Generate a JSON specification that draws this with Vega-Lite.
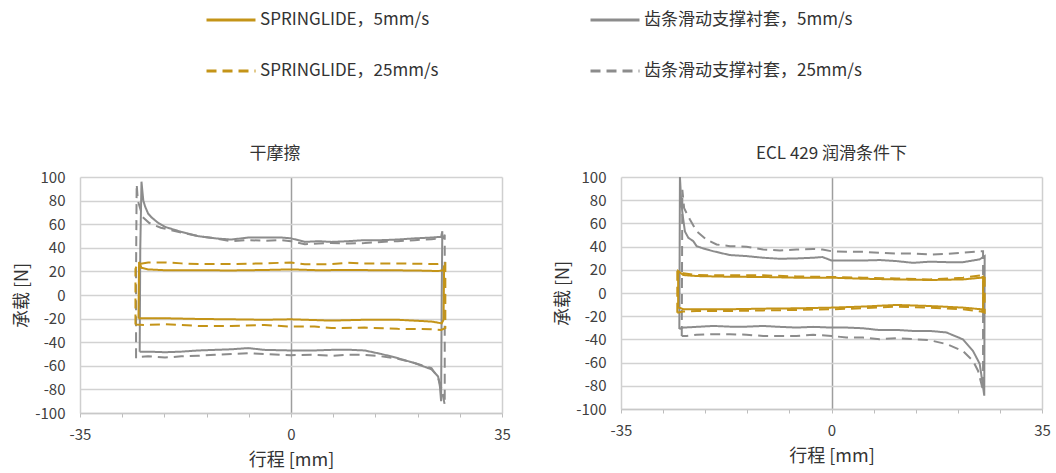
{
"$schema": "https://vega.github.io/schema/vega-lite/v6.json",
"padding": {"left": 13, "top": -6, "right": 5, "bottom": 5},
"background": "white",
"spacing": 43,
"config": {
  "font": "Noto Sans CJK SC",
  "view": {"stroke": null},
  "title": {"fontSize": 17, "fontWeight": "normal", "color": "#333333", "anchor": "middle", "offset": 7},
  "axis": {"labelFontSize": 15, "labelColor": "#404040", "titleFontSize": 18, "titleFontWeight": "normal", "titleColor": "#333333"},
  "legend": {"orient": "none", "legendX": 125, "legendY": -183, "columns": 2, "title": null, "symbolType": "stroke", "symbolSize": 2400, "symbolStrokeWidth": 3, "labelFontSize": 17, "labelColor": "#333333", "labelOffset": 3, "columnPadding": 145, "rowPadding": 17, "labelLimit": 400}
},
"datasets": {"d": [
{"p":"L","s":"齿条滑动支撑衬套，5mm/s","i":1,"x":-25.1,"y":-48},
{"p":"L","s":"齿条滑动支撑衬套，5mm/s","i":2,"x":-25.0,"y":40},
{"p":"L","s":"齿条滑动支撑衬套，5mm/s","i":3,"x":-24.8,"y":96},
{"p":"L","s":"齿条滑动支撑衬套，5mm/s","i":4,"x":-24.5,"y":80},
{"p":"L","s":"齿条滑动支撑衬套，5mm/s","i":5,"x":-24.2,"y":75},
{"p":"L","s":"齿条滑动支撑衬套，5mm/s","i":6,"x":-23.7,"y":69},
{"p":"L","s":"齿条滑动支撑衬套，5mm/s","i":7,"x":-23.1,"y":65.6},
{"p":"L","s":"齿条滑动支撑衬套，5mm/s","i":8,"x":-22.0,"y":61},
{"p":"L","s":"齿条滑动支撑衬套，5mm/s","i":9,"x":-20.9,"y":57.7},
{"p":"L","s":"齿条滑动支撑衬套，5mm/s","i":10,"x":-18.2,"y":53.5},
{"p":"L","s":"齿条滑动支撑衬套，5mm/s","i":11,"x":-15.4,"y":49.9},
{"p":"L","s":"齿条滑动支撑衬套，5mm/s","i":12,"x":-12.6,"y":48},
{"p":"L","s":"齿条滑动支撑衬套，5mm/s","i":13,"x":-9.9,"y":47},
{"p":"L","s":"齿条滑动支撑衬套，5mm/s","i":14,"x":-7.1,"y":48.7},
{"p":"L","s":"齿条滑动支撑衬套，5mm/s","i":15,"x":-4.4,"y":48.7},
{"p":"L","s":"齿条滑动支撑衬套，5mm/s","i":16,"x":-1.6,"y":48.7},
{"p":"L","s":"齿条滑动支撑衬套，5mm/s","i":17,"x":0,"y":48},
{"p":"L","s":"齿条滑动支撑衬套，5mm/s","i":18,"x":2.3,"y":45},
{"p":"L","s":"齿条滑动支撑衬套，5mm/s","i":19,"x":4.5,"y":45.6},
{"p":"L","s":"齿条滑动支撑衬套，5mm/s","i":20,"x":6.7,"y":45},
{"p":"L","s":"齿条滑动支撑衬套，5mm/s","i":21,"x":9.5,"y":45.6},
{"p":"L","s":"齿条滑动支撑衬套，5mm/s","i":22,"x":12.2,"y":46.5},
{"p":"L","s":"齿条滑动支撑衬套，5mm/s","i":23,"x":15.0,"y":46.5},
{"p":"L","s":"齿条滑动支撑衬套，5mm/s","i":24,"x":17.7,"y":47},
{"p":"L","s":"齿条滑动支撑衬套，5mm/s","i":25,"x":20.5,"y":48},
{"p":"L","s":"齿条滑动支撑衬套，5mm/s","i":26,"x":23.3,"y":48.7},
{"p":"L","s":"齿条滑动支撑衬套，5mm/s","i":27,"x":24.9,"y":49.3},
{"p":"L","s":"齿条滑动支撑衬套，5mm/s","i":28,"x":25.1,"y":54},
{"p":"L","s":"齿条滑动支撑衬套，5mm/s","i":29,"x":25.0,"y":0},
{"p":"L","s":"齿条滑动支撑衬套，5mm/s","i":30,"x":24.9,"y":-90},
{"p":"L","s":"齿条滑动支撑衬套，5mm/s","i":31,"x":24.7,"y":-77.5},
{"p":"L","s":"齿条滑动支撑衬套，5mm/s","i":32,"x":24.4,"y":-69},
{"p":"L","s":"齿条滑动支撑衬套，5mm/s","i":33,"x":23.3,"y":-63},
{"p":"L","s":"齿条滑动支撑衬套，5mm/s","i":34,"x":20.5,"y":-57.7},
{"p":"L","s":"齿条滑动支撑衬套，5mm/s","i":35,"x":17.7,"y":-53.5},
{"p":"L","s":"齿条滑动支撑衬套，5mm/s","i":36,"x":15.0,"y":-50},
{"p":"L","s":"齿条滑动支撑衬套，5mm/s","i":37,"x":12.2,"y":-47},
{"p":"L","s":"齿条滑动支撑衬套，5mm/s","i":38,"x":10.0,"y":-46.5},
{"p":"L","s":"齿条滑动支撑衬套，5mm/s","i":39,"x":6.7,"y":-46.5},
{"p":"L","s":"齿条滑动支撑衬套，5mm/s","i":40,"x":3.9,"y":-47},
{"p":"L","s":"齿条滑动支撑衬套，5mm/s","i":41,"x":0,"y":-47},
{"p":"L","s":"齿条滑动支撑衬套，5mm/s","i":42,"x":-4.4,"y":-46.5},
{"p":"L","s":"齿条滑动支撑衬套，5mm/s","i":43,"x":-7.1,"y":-45},
{"p":"L","s":"齿条滑动支撑衬套，5mm/s","i":44,"x":-9.9,"y":-46},
{"p":"L","s":"齿条滑动支撑衬套，5mm/s","i":45,"x":-12.6,"y":-46.5},
{"p":"L","s":"齿条滑动支撑衬套，5mm/s","i":46,"x":-15.4,"y":-47},
{"p":"L","s":"齿条滑动支撑衬套，5mm/s","i":47,"x":-18.2,"y":-48},
{"p":"L","s":"齿条滑动支撑衬套，5mm/s","i":48,"x":-20.9,"y":-48.5},
{"p":"L","s":"齿条滑动支撑衬套，5mm/s","i":49,"x":-23.7,"y":-48},
{"p":"L","s":"齿条滑动支撑衬套，5mm/s","i":50,"x":-25.1,"y":-48},
{"p":"L","s":"齿条滑动支撑衬套，25mm/s","i":1,"x":-25.7,"y":-53.5},
{"p":"L","s":"齿条滑动支撑衬套，25mm/s","i":2,"x":-25.7,"y":20},
{"p":"L","s":"齿条滑动支撑衬套，25mm/s","i":3,"x":-25.6,"y":94},
{"p":"L","s":"齿条滑动支撑衬套，25mm/s","i":4,"x":-25.4,"y":80},
{"p":"L","s":"齿条滑动支撑衬套，25mm/s","i":5,"x":-24.6,"y":66},
{"p":"L","s":"齿条滑动支撑衬套，25mm/s","i":6,"x":-23.5,"y":61},
{"p":"L","s":"齿条滑动支撑衬套，25mm/s","i":7,"x":-21.6,"y":57},
{"p":"L","s":"齿条滑动支撑衬套，25mm/s","i":8,"x":-18.2,"y":53},
{"p":"L","s":"齿条滑动支撑衬套，25mm/s","i":9,"x":-15.4,"y":50},
{"p":"L","s":"齿条滑动支撑衬套，25mm/s","i":10,"x":-12.6,"y":48},
{"p":"L","s":"齿条滑动支撑衬套，25mm/s","i":11,"x":-9.9,"y":45.6},
{"p":"L","s":"齿条滑动支撑衬套，25mm/s","i":12,"x":-7.1,"y":46.5},
{"p":"L","s":"齿条滑动支撑衬套，25mm/s","i":13,"x":-4.4,"y":46},
{"p":"L","s":"齿条滑动支撑衬套，25mm/s","i":14,"x":-1.6,"y":46.5},
{"p":"L","s":"齿条滑动支撑衬套，25mm/s","i":15,"x":0,"y":45.6},
{"p":"L","s":"齿条滑动支撑衬套，25mm/s","i":16,"x":2.3,"y":43},
{"p":"L","s":"齿条滑动支撑衬套，25mm/s","i":17,"x":4.5,"y":43.7},
{"p":"L","s":"齿条滑动支撑衬套，25mm/s","i":18,"x":6.7,"y":44},
{"p":"L","s":"齿条滑动支撑衬套，25mm/s","i":19,"x":9.5,"y":43.7},
{"p":"L","s":"齿条滑动支撑衬套，25mm/s","i":20,"x":12.2,"y":44},
{"p":"L","s":"齿条滑动支撑衬套，25mm/s","i":21,"x":15.0,"y":45},
{"p":"L","s":"齿条滑动支撑衬套，25mm/s","i":22,"x":17.7,"y":45.6},
{"p":"L","s":"齿条滑动支撑衬套，25mm/s","i":23,"x":20.5,"y":46.5},
{"p":"L","s":"齿条滑动支撑衬套，25mm/s","i":24,"x":23.3,"y":47.3},
{"p":"L","s":"齿条滑动支撑衬套，25mm/s","i":25,"x":25.2,"y":48},
{"p":"L","s":"齿条滑动支撑衬套，25mm/s","i":26,"x":25.5,"y":51},
{"p":"L","s":"齿条滑动支撑衬套，25mm/s","i":27,"x":25.5,"y":-93},
{"p":"L","s":"齿条滑动支撑衬套，25mm/s","i":28,"x":25.0,"y":-80},
{"p":"L","s":"齿条滑动支撑衬套，25mm/s","i":29,"x":24.4,"y":-70},
{"p":"L","s":"齿条滑动支撑衬套，25mm/s","i":30,"x":23.3,"y":-62},
{"p":"L","s":"齿条滑动支撑衬套，25mm/s","i":31,"x":20.5,"y":-57.7},
{"p":"L","s":"齿条滑动支撑衬套，25mm/s","i":32,"x":17.7,"y":-54},
{"p":"L","s":"齿条滑动支撑衬套，25mm/s","i":33,"x":15.0,"y":-52},
{"p":"L","s":"齿条滑动支撑衬套，25mm/s","i":34,"x":12.2,"y":-50.7},
{"p":"L","s":"齿条滑动支撑衬套，25mm/s","i":35,"x":9.5,"y":-50.7},
{"p":"L","s":"齿条滑动支撑衬套，25mm/s","i":36,"x":6.7,"y":-51.5},
{"p":"L","s":"齿条滑动支撑衬套，25mm/s","i":37,"x":3.9,"y":-50.7},
{"p":"L","s":"齿条滑动支撑衬套，25mm/s","i":38,"x":0,"y":-51},
{"p":"L","s":"齿条滑动支撑衬套，25mm/s","i":39,"x":-4.4,"y":-50},
{"p":"L","s":"齿条滑动支撑衬套，25mm/s","i":40,"x":-7.1,"y":-49.3},
{"p":"L","s":"齿条滑动支撑衬套，25mm/s","i":41,"x":-9.9,"y":-50},
{"p":"L","s":"齿条滑动支撑衬套，25mm/s","i":42,"x":-12.6,"y":-50.7},
{"p":"L","s":"齿条滑动支撑衬套，25mm/s","i":43,"x":-15.4,"y":-51.5},
{"p":"L","s":"齿条滑动支撑衬套，25mm/s","i":44,"x":-18.2,"y":-52},
{"p":"L","s":"齿条滑动支撑衬套，25mm/s","i":45,"x":-20.9,"y":-53},
{"p":"L","s":"齿条滑动支撑衬套，25mm/s","i":46,"x":-23.7,"y":-52},
{"p":"L","s":"齿条滑动支撑衬套，25mm/s","i":47,"x":-25.3,"y":-52.5},
{"p":"L","s":"齿条滑动支撑衬套，25mm/s","i":48,"x":-25.7,"y":-53.5},
{"p":"L","s":"SPRINGLIDE，5mm/s","i":1,"x":-25.3,"y":-20},
{"p":"L","s":"SPRINGLIDE，5mm/s","i":2,"x":-25.2,"y":28},
{"p":"L","s":"SPRINGLIDE，5mm/s","i":3,"x":-24.8,"y":23},
{"p":"L","s":"SPRINGLIDE，5mm/s","i":4,"x":-23.7,"y":21.7},
{"p":"L","s":"SPRINGLIDE，5mm/s","i":5,"x":-20.9,"y":21},
{"p":"L","s":"SPRINGLIDE，5mm/s","i":6,"x":-15.4,"y":21},
{"p":"L","s":"SPRINGLIDE，5mm/s","i":7,"x":-9.9,"y":20.8},
{"p":"L","s":"SPRINGLIDE，5mm/s","i":8,"x":-4.4,"y":21.2},
{"p":"L","s":"SPRINGLIDE，5mm/s","i":9,"x":0,"y":21.7},
{"p":"L","s":"SPRINGLIDE，5mm/s","i":10,"x":4.5,"y":21},
{"p":"L","s":"SPRINGLIDE，5mm/s","i":11,"x":9.5,"y":21.2},
{"p":"L","s":"SPRINGLIDE，5mm/s","i":12,"x":15.0,"y":21},
{"p":"L","s":"SPRINGLIDE，5mm/s","i":13,"x":20.5,"y":20.8},
{"p":"L","s":"SPRINGLIDE，5mm/s","i":14,"x":24.4,"y":20.3},
{"p":"L","s":"SPRINGLIDE，5mm/s","i":15,"x":25.3,"y":21},
{"p":"L","s":"SPRINGLIDE，5mm/s","i":16,"x":25.4,"y":25},
{"p":"L","s":"SPRINGLIDE，5mm/s","i":17,"x":25.3,"y":-21},
{"p":"L","s":"SPRINGLIDE，5mm/s","i":18,"x":25.0,"y":-24},
{"p":"L","s":"SPRINGLIDE，5mm/s","i":19,"x":23.3,"y":-22.5},
{"p":"L","s":"SPRINGLIDE，5mm/s","i":20,"x":17.7,"y":-21},
{"p":"L","s":"SPRINGLIDE，5mm/s","i":21,"x":12.2,"y":-21},
{"p":"L","s":"SPRINGLIDE，5mm/s","i":22,"x":6.7,"y":-21.7},
{"p":"L","s":"SPRINGLIDE，5mm/s","i":23,"x":0,"y":-20.6},
{"p":"L","s":"SPRINGLIDE，5mm/s","i":24,"x":-4.4,"y":-21},
{"p":"L","s":"SPRINGLIDE，5mm/s","i":25,"x":-9.9,"y":-20.6},
{"p":"L","s":"SPRINGLIDE，5mm/s","i":26,"x":-15.4,"y":-20.3},
{"p":"L","s":"SPRINGLIDE，5mm/s","i":27,"x":-20.9,"y":-19.7},
{"p":"L","s":"SPRINGLIDE，5mm/s","i":28,"x":-25.0,"y":-19.7},
{"p":"L","s":"SPRINGLIDE，5mm/s","i":29,"x":-25.3,"y":-20},
{"p":"L","s":"SPRINGLIDE，25mm/s","i":1,"x":-25.8,"y":-25},
{"p":"L","s":"SPRINGLIDE，25mm/s","i":2,"x":-25.8,"y":22},
{"p":"L","s":"SPRINGLIDE，25mm/s","i":3,"x":-25.5,"y":26},
{"p":"L","s":"SPRINGLIDE，25mm/s","i":4,"x":-23.7,"y":27.6},
{"p":"L","s":"SPRINGLIDE，25mm/s","i":5,"x":-20.9,"y":27.6},
{"p":"L","s":"SPRINGLIDE，25mm/s","i":6,"x":-18.2,"y":26.8},
{"p":"L","s":"SPRINGLIDE，25mm/s","i":7,"x":-15.4,"y":26.2},
{"p":"L","s":"SPRINGLIDE，25mm/s","i":8,"x":-9.9,"y":26.2},
{"p":"L","s":"SPRINGLIDE，25mm/s","i":9,"x":-4.4,"y":26.8},
{"p":"L","s":"SPRINGLIDE，25mm/s","i":10,"x":0,"y":27.6},
{"p":"L","s":"SPRINGLIDE，25mm/s","i":11,"x":2.3,"y":26},
{"p":"L","s":"SPRINGLIDE，25mm/s","i":12,"x":6.7,"y":26.2},
{"p":"L","s":"SPRINGLIDE，25mm/s","i":13,"x":9.5,"y":27.3},
{"p":"L","s":"SPRINGLIDE，25mm/s","i":14,"x":12.2,"y":26.8},
{"p":"L","s":"SPRINGLIDE，25mm/s","i":15,"x":17.7,"y":26.8},
{"p":"L","s":"SPRINGLIDE，25mm/s","i":16,"x":24.4,"y":26.2},
{"p":"L","s":"SPRINGLIDE，25mm/s","i":17,"x":25.6,"y":27},
{"p":"L","s":"SPRINGLIDE，25mm/s","i":18,"x":25.6,"y":-28},
{"p":"L","s":"SPRINGLIDE，25mm/s","i":19,"x":24.9,"y":-29.6},
{"p":"L","s":"SPRINGLIDE，25mm/s","i":20,"x":23.3,"y":-29},
{"p":"L","s":"SPRINGLIDE，25mm/s","i":21,"x":17.7,"y":-28.7},
{"p":"L","s":"SPRINGLIDE，25mm/s","i":22,"x":12.2,"y":-27.6},
{"p":"L","s":"SPRINGLIDE，25mm/s","i":23,"x":6.7,"y":-28},
{"p":"L","s":"SPRINGLIDE，25mm/s","i":24,"x":3.9,"y":-26.8},
{"p":"L","s":"SPRINGLIDE，25mm/s","i":25,"x":0,"y":-26.8},
{"p":"L","s":"SPRINGLIDE，25mm/s","i":26,"x":-4.4,"y":-25.4},
{"p":"L","s":"SPRINGLIDE，25mm/s","i":27,"x":-9.9,"y":-26.2},
{"p":"L","s":"SPRINGLIDE，25mm/s","i":28,"x":-15.4,"y":-26.2},
{"p":"L","s":"SPRINGLIDE，25mm/s","i":29,"x":-20.9,"y":-24.8},
{"p":"L","s":"SPRINGLIDE，25mm/s","i":30,"x":-24.2,"y":-25.4},
{"p":"L","s":"SPRINGLIDE，25mm/s","i":31,"x":-25.8,"y":-25},
{"p":"R","s":"齿条滑动支撑衬套，5mm/s","i":1,"x":-25.3,"y":-31},
{"p":"R","s":"齿条滑动支撑衬套，5mm/s","i":2,"x":-25.2,"y":100},
{"p":"R","s":"齿条滑动支撑衬套，5mm/s","i":3,"x":-25.0,"y":80},
{"p":"R","s":"齿条滑动支撑衬套，5mm/s","i":4,"x":-24.76,"y":67.6},
{"p":"R","s":"齿条滑动支撑衬套，5mm/s","i":5,"x":-24.37,"y":53},
{"p":"R","s":"齿条滑动支撑衬套，5mm/s","i":6,"x":-23.81,"y":47.6},
{"p":"R","s":"齿条滑动支撑衬套，5mm/s","i":7,"x":-22.98,"y":44.7},
{"p":"R","s":"齿条滑动支撑衬套，5mm/s","i":8,"x":-22.43,"y":40.4},
{"p":"R","s":"齿条滑动支撑衬套，5mm/s","i":9,"x":-21.32,"y":38.4},
{"p":"R","s":"齿条滑动支撑衬套，5mm/s","i":10,"x":-19.66,"y":36},
{"p":"R","s":"齿条滑动支撑衬套，5mm/s","i":11,"x":-16.89,"y":32.7},
{"p":"R","s":"齿条滑动支撑衬套，5mm/s","i":12,"x":-14.13,"y":31.8},
{"p":"R","s":"齿条滑动支撑衬套，5mm/s","i":13,"x":-11.36,"y":30.4},
{"p":"R","s":"齿条滑动支撑衬套，5mm/s","i":14,"x":-8.59,"y":29.5},
{"p":"R","s":"齿条滑动支撑衬套，5mm/s","i":15,"x":-5.82,"y":29.8},
{"p":"R","s":"齿条滑动支撑衬套，5mm/s","i":16,"x":-3.05,"y":30.4},
{"p":"R","s":"齿条滑动支撑衬套，5mm/s","i":17,"x":-1.5,"y":31},
{"p":"R","s":"齿条滑动支撑衬套，5mm/s","i":18,"x":0,"y":28},
{"p":"R","s":"齿条滑动支撑衬套，5mm/s","i":19,"x":2.49,"y":28},
{"p":"R","s":"齿条滑动支撑衬套，5mm/s","i":20,"x":5.25,"y":28},
{"p":"R","s":"齿条滑动支撑衬套，5mm/s","i":21,"x":8.02,"y":28.4},
{"p":"R","s":"齿条滑动支撑衬套，5mm/s","i":22,"x":10.79,"y":27.5},
{"p":"R","s":"齿条滑动支撑衬套，5mm/s","i":23,"x":13.56,"y":26},
{"p":"R","s":"齿条滑动支撑衬套，5mm/s","i":24,"x":16.33,"y":27},
{"p":"R","s":"齿条滑动支撑衬套，5mm/s","i":25,"x":19.1,"y":26.6},
{"p":"R","s":"齿条滑动支撑衬套，5mm/s","i":26,"x":21.87,"y":26.6},
{"p":"R","s":"齿条滑动支撑衬套，5mm/s","i":27,"x":24.64,"y":29},
{"p":"R","s":"齿条滑动支撑衬套，5mm/s","i":28,"x":25.47,"y":31.8},
{"p":"R","s":"齿条滑动支撑衬套，5mm/s","i":29,"x":25.4,"y":-88.5},
{"p":"R","s":"齿条滑动支撑衬套，5mm/s","i":30,"x":24.9,"y":-70},
{"p":"R","s":"齿条滑动支撑衬套，5mm/s","i":31,"x":24.64,"y":-61},
{"p":"R","s":"齿条滑动支撑衬套，5mm/s","i":32,"x":23.53,"y":-50},
{"p":"R","s":"齿条滑动支撑衬套，5mm/s","i":33,"x":21.87,"y":-40},
{"p":"R","s":"齿条滑动支撑衬套，5mm/s","i":34,"x":19.1,"y":-34},
{"p":"R","s":"齿条滑动支撑衬套，5mm/s","i":35,"x":16.33,"y":-32.7},
{"p":"R","s":"齿条滑动支撑衬套，5mm/s","i":36,"x":13.56,"y":-32.7},
{"p":"R","s":"齿条滑动支撑衬套，5mm/s","i":37,"x":10.79,"y":-31.8},
{"p":"R","s":"齿条滑动支撑衬套，5mm/s","i":38,"x":8.02,"y":-32},
{"p":"R","s":"齿条滑动支撑衬套，5mm/s","i":39,"x":5.25,"y":-30.4},
{"p":"R","s":"齿条滑动支撑衬套，5mm/s","i":40,"x":2.49,"y":-29.8},
{"p":"R","s":"齿条滑动支撑衬套，5mm/s","i":41,"x":0,"y":-29.8},
{"p":"R","s":"齿条滑动支撑衬套，5mm/s","i":42,"x":-3.05,"y":-29.2},
{"p":"R","s":"齿条滑动支撑衬套，5mm/s","i":43,"x":-5.82,"y":-29.8},
{"p":"R","s":"齿条滑动支撑衬套，5mm/s","i":44,"x":-8.59,"y":-29.2},
{"p":"R","s":"齿条滑动支撑衬套，5mm/s","i":45,"x":-11.36,"y":-28.4},
{"p":"R","s":"齿条滑动支撑衬套，5mm/s","i":46,"x":-14.13,"y":-29},
{"p":"R","s":"齿条滑动支撑衬套，5mm/s","i":47,"x":-16.89,"y":-29},
{"p":"R","s":"齿条滑动支撑衬套，5mm/s","i":48,"x":-19.66,"y":-28.4},
{"p":"R","s":"齿条滑动支撑衬套，5mm/s","i":49,"x":-22.43,"y":-29.2},
{"p":"R","s":"齿条滑动支撑衬套，5mm/s","i":50,"x":-24.65,"y":-29.8},
{"p":"R","s":"齿条滑动支撑衬套，5mm/s","i":51,"x":-25.3,"y":-31},
{"p":"R","s":"齿条滑动支撑衬套，25mm/s","i":1,"x":-24.9,"y":-37},
{"p":"R","s":"齿条滑动支撑衬套，25mm/s","i":2,"x":-24.8,"y":89},
{"p":"R","s":"齿条滑动支撑衬套，25mm/s","i":3,"x":-24.5,"y":73},
{"p":"R","s":"齿条滑动支撑衬套，25mm/s","i":4,"x":-23.54,"y":63.3},
{"p":"R","s":"齿条滑动支撑衬套，25mm/s","i":5,"x":-22.43,"y":53.3},
{"p":"R","s":"齿条滑动支撑衬套，25mm/s","i":6,"x":-20.77,"y":46},
{"p":"R","s":"齿条滑动支撑衬套，25mm/s","i":7,"x":-19.11,"y":41.8},
{"p":"R","s":"齿条滑动支撑衬套，25mm/s","i":8,"x":-16.89,"y":40.4},
{"p":"R","s":"齿条滑动支撑衬套，25mm/s","i":9,"x":-14.13,"y":39.8},
{"p":"R","s":"齿条滑动支撑衬套，25mm/s","i":10,"x":-11.36,"y":37.5},
{"p":"R","s":"齿条滑动支撑衬套，25mm/s","i":11,"x":-8.59,"y":36.7},
{"p":"R","s":"齿条滑动支撑衬套，25mm/s","i":12,"x":-5.82,"y":37.5},
{"p":"R","s":"齿条滑动支撑衬套，25mm/s","i":13,"x":-3.05,"y":38},
{"p":"R","s":"齿条滑动支撑衬套，25mm/s","i":14,"x":-1.5,"y":37.5},
{"p":"R","s":"齿条滑动支撑衬套，25mm/s","i":15,"x":0,"y":36},
{"p":"R","s":"齿条滑动支撑衬套，25mm/s","i":16,"x":2.49,"y":35.5},
{"p":"R","s":"齿条滑动支撑衬套，25mm/s","i":17,"x":5.25,"y":35.5},
{"p":"R","s":"齿条滑动支撑衬套，25mm/s","i":18,"x":8.02,"y":34.7},
{"p":"R","s":"齿条滑动支撑衬套，25mm/s","i":19,"x":10.79,"y":34},
{"p":"R","s":"齿条滑动支撑衬套，25mm/s","i":20,"x":13.56,"y":34},
{"p":"R","s":"齿条滑动支撑衬套，25mm/s","i":21,"x":16.33,"y":33.2},
{"p":"R","s":"齿条滑动支撑衬套，25mm/s","i":22,"x":19.1,"y":33.7},
{"p":"R","s":"齿条滑动支撑衬套，25mm/s","i":23,"x":21.87,"y":34.7},
{"p":"R","s":"齿条滑动支撑衬套，25mm/s","i":24,"x":24.64,"y":36},
{"p":"R","s":"齿条滑动支撑衬套，25mm/s","i":25,"x":25.2,"y":36},
{"p":"R","s":"齿条滑动支撑衬套，25mm/s","i":26,"x":25.2,"y":-84},
{"p":"R","s":"齿条滑动支撑衬套，25mm/s","i":27,"x":24.36,"y":-67},
{"p":"R","s":"齿条滑动支撑衬套，25mm/s","i":28,"x":23.53,"y":-58.5},
{"p":"R","s":"齿条滑动支撑衬套，25mm/s","i":29,"x":21.87,"y":-50},
{"p":"R","s":"齿条滑动支撑衬套，25mm/s","i":30,"x":19.1,"y":-44},
{"p":"R","s":"齿条滑动支撑衬套，25mm/s","i":31,"x":16.33,"y":-40.7},
{"p":"R","s":"齿条滑动支撑衬套，25mm/s","i":32,"x":13.56,"y":-39.8},
{"p":"R","s":"齿条滑动支撑衬套，25mm/s","i":33,"x":10.79,"y":-39},
{"p":"R","s":"齿条滑动支撑衬套，25mm/s","i":34,"x":8.02,"y":-39.8},
{"p":"R","s":"齿条滑动支撑衬套，25mm/s","i":35,"x":5.25,"y":-38.4},
{"p":"R","s":"齿条滑动支撑衬套，25mm/s","i":36,"x":2.49,"y":-38.4},
{"p":"R","s":"齿条滑动支撑衬套，25mm/s","i":37,"x":0,"y":-37},
{"p":"R","s":"齿条滑动支撑衬套，25mm/s","i":38,"x":-3.05,"y":-36},
{"p":"R","s":"齿条滑动支撑衬套，25mm/s","i":39,"x":-5.82,"y":-37},
{"p":"R","s":"齿条滑动支撑衬套，25mm/s","i":40,"x":-8.59,"y":-37},
{"p":"R","s":"齿条滑动支撑衬套，25mm/s","i":41,"x":-11.36,"y":-37},
{"p":"R","s":"齿条滑动支撑衬套，25mm/s","i":42,"x":-14.13,"y":-36},
{"p":"R","s":"齿条滑动支撑衬套，25mm/s","i":43,"x":-16.89,"y":-35.5},
{"p":"R","s":"齿条滑动支撑衬套，25mm/s","i":44,"x":-19.66,"y":-35.5},
{"p":"R","s":"齿条滑动支撑衬套，25mm/s","i":45,"x":-22.43,"y":-36},
{"p":"R","s":"齿条滑动支撑衬套，25mm/s","i":46,"x":-24.09,"y":-37},
{"p":"R","s":"齿条滑动支撑衬套，25mm/s","i":47,"x":-24.9,"y":-37},
{"p":"R","s":"SPRINGLIDE，5mm/s","i":1,"x":-25.5,"y":-12.6},
{"p":"R","s":"SPRINGLIDE，5mm/s","i":2,"x":-25.5,"y":19},
{"p":"R","s":"SPRINGLIDE，5mm/s","i":3,"x":-24.65,"y":15.5},
{"p":"R","s":"SPRINGLIDE，5mm/s","i":4,"x":-22.43,"y":14.6},
{"p":"R","s":"SPRINGLIDE，5mm/s","i":5,"x":-16.89,"y":14},
{"p":"R","s":"SPRINGLIDE，5mm/s","i":6,"x":-11.36,"y":13.8},
{"p":"R","s":"SPRINGLIDE，5mm/s","i":7,"x":-5.82,"y":13.2},
{"p":"R","s":"SPRINGLIDE，5mm/s","i":8,"x":0,"y":13.2},
{"p":"R","s":"SPRINGLIDE，5mm/s","i":9,"x":5.25,"y":12.3},
{"p":"R","s":"SPRINGLIDE，5mm/s","i":10,"x":10.79,"y":11.7},
{"p":"R","s":"SPRINGLIDE，5mm/s","i":11,"x":16.33,"y":11.2},
{"p":"R","s":"SPRINGLIDE，5mm/s","i":12,"x":21.87,"y":11.7},
{"p":"R","s":"SPRINGLIDE，5mm/s","i":13,"x":24.91,"y":13.2},
{"p":"R","s":"SPRINGLIDE，5mm/s","i":14,"x":25.2,"y":14},
{"p":"R","s":"SPRINGLIDE，5mm/s","i":15,"x":25.2,"y":-15.5},
{"p":"R","s":"SPRINGLIDE，5mm/s","i":16,"x":24.91,"y":-14},
{"p":"R","s":"SPRINGLIDE，5mm/s","i":17,"x":21.87,"y":-12.6},
{"p":"R","s":"SPRINGLIDE，5mm/s","i":18,"x":16.33,"y":-11.2},
{"p":"R","s":"SPRINGLIDE，5mm/s","i":19,"x":10.79,"y":-10.3},
{"p":"R","s":"SPRINGLIDE，5mm/s","i":20,"x":5.25,"y":-11.7},
{"p":"R","s":"SPRINGLIDE，5mm/s","i":21,"x":0,"y":-12.6},
{"p":"R","s":"SPRINGLIDE，5mm/s","i":22,"x":-5.82,"y":-13.2},
{"p":"R","s":"SPRINGLIDE，5mm/s","i":23,"x":-11.36,"y":-13.5},
{"p":"R","s":"SPRINGLIDE，5mm/s","i":24,"x":-16.89,"y":-14},
{"p":"R","s":"SPRINGLIDE，5mm/s","i":25,"x":-22.43,"y":-14},
{"p":"R","s":"SPRINGLIDE，5mm/s","i":26,"x":-24.65,"y":-14},
{"p":"R","s":"SPRINGLIDE，5mm/s","i":27,"x":-25.1,"y":-13},
{"p":"R","s":"SPRINGLIDE，5mm/s","i":28,"x":-25.5,"y":-12.6},
{"p":"R","s":"SPRINGLIDE，25mm/s","i":1,"x":-25.64,"y":-17},
{"p":"R","s":"SPRINGLIDE，25mm/s","i":2,"x":-25.64,"y":19.5},
{"p":"R","s":"SPRINGLIDE，25mm/s","i":3,"x":-24.65,"y":17},
{"p":"R","s":"SPRINGLIDE，25mm/s","i":4,"x":-22.43,"y":15.5},
{"p":"R","s":"SPRINGLIDE，25mm/s","i":5,"x":-16.89,"y":15.2},
{"p":"R","s":"SPRINGLIDE，25mm/s","i":6,"x":-11.36,"y":15.2},
{"p":"R","s":"SPRINGLIDE，25mm/s","i":7,"x":-5.82,"y":14.3},
{"p":"R","s":"SPRINGLIDE，25mm/s","i":8,"x":0,"y":13.8},
{"p":"R","s":"SPRINGLIDE，25mm/s","i":9,"x":5.25,"y":13.2},
{"p":"R","s":"SPRINGLIDE，25mm/s","i":10,"x":10.79,"y":12.6},
{"p":"R","s":"SPRINGLIDE，25mm/s","i":11,"x":16.33,"y":11.7},
{"p":"R","s":"SPRINGLIDE，25mm/s","i":12,"x":21.87,"y":13.2},
{"p":"R","s":"SPRINGLIDE，25mm/s","i":13,"x":24.91,"y":15.2},
{"p":"R","s":"SPRINGLIDE，25mm/s","i":14,"x":25.47,"y":15},
{"p":"R","s":"SPRINGLIDE，25mm/s","i":15,"x":25.47,"y":-17},
{"p":"R","s":"SPRINGLIDE，25mm/s","i":16,"x":24.91,"y":-16},
{"p":"R","s":"SPRINGLIDE，25mm/s","i":17,"x":21.87,"y":-14},
{"p":"R","s":"SPRINGLIDE，25mm/s","i":18,"x":16.33,"y":-12.6},
{"p":"R","s":"SPRINGLIDE，25mm/s","i":19,"x":10.79,"y":-11.7},
{"p":"R","s":"SPRINGLIDE，25mm/s","i":20,"x":5.25,"y":-13.2},
{"p":"R","s":"SPRINGLIDE，25mm/s","i":21,"x":0,"y":-14},
{"p":"R","s":"SPRINGLIDE，25mm/s","i":22,"x":-5.82,"y":-14.6},
{"p":"R","s":"SPRINGLIDE，25mm/s","i":23,"x":-11.36,"y":-15},
{"p":"R","s":"SPRINGLIDE，25mm/s","i":24,"x":-16.89,"y":-15.5},
{"p":"R","s":"SPRINGLIDE，25mm/s","i":25,"x":-22.43,"y":-15.5},
{"p":"R","s":"SPRINGLIDE，25mm/s","i":26,"x":-24.65,"y":-16},
{"p":"R","s":"SPRINGLIDE，25mm/s","i":27,"x":-25.64,"y":-17}
]},
"hconcat": [
  {
    "width": 422, "height": 236,
    "title": {"text": "干摩擦", "dx": -16},
    "data": {"name": "d"},
    "transform": [{"filter": "datum.p == 'L'"}],
    "mark": {"type": "line", "strokeWidth": 2, "interpolate": "linear"},
    "encoding": {
      "x": {"field": "x", "type": "quantitative", "title": "行程 [mm]",
        "scale": {"domain": [-35, 35], "nice": false, "zero": false},
        "axis": {"values": [-35, -28, -21, -14, -7, 0, 7, 14, 21, 28, 35],
          "labelExpr": "(abs(datum.value) == 35 || datum.value == 0) ? ('' + datum.value) : ''",
          "grid": true,
          "gridColor": {"condition": {"test": "datum.value == 0", "value": "#9e9e9e"}, "value": "#cfcfcf"},
          "gridOpacity": {"condition": {"test": "abs(datum.value) == 35 || datum.value == 0", "value": 1}, "value": 0},
          "gridWidth": 1.5,
          "ticks": true, "tickSize": 4, "tickColor": "#bdbdbd",
          "domain": true, "domainColor": "#c8c8c8", "domainWidth": 1.5,
          "labelPadding": 10, "titlePadding": 9, "labelFlush": false}},
      "y": {"field": "y", "type": "quantitative", "title": "承载 [N]",
        "scale": {"domain": [-100, 100], "nice": false, "zero": false},
        "axis": {"values": [-100, -80, -60, -40, -20, 0, 20, 40, 60, 80, 100],
          "labelExpr": "'' + datum.value",
          "grid": true, "gridColor": "#d2d2d2", "gridWidth": 1.5,
          "ticks": false, "domain": false, "labelPadding": 15, "titlePadding": 3}},
      "color": {"field": "s", "type": "nominal",
        "scale": {"domain": ["SPRINGLIDE，5mm/s", "SPRINGLIDE，25mm/s", "齿条滑动支撑衬套，5mm/s", "齿条滑动支撑衬套，25mm/s"],
                  "range": ["#C49418", "#C49418", "#8C8C8C", "#8C8C8C"]}},
      "strokeDash": {"field": "s", "type": "nominal",
        "scale": {"domain": ["SPRINGLIDE，5mm/s", "SPRINGLIDE，25mm/s", "齿条滑动支撑衬套，5mm/s", "齿条滑动支撑衬套，25mm/s"],
                  "range": [[1, 0], [10, 6], [1, 0], [10, 6]]}},
      "order": {"field": "i", "type": "quantitative"}
    }
  },
  {
    "width": 421, "height": 232,
    "title": {"text": "ECL 429 润滑条件下"},
    "data": {"name": "d"},
    "transform": [{"filter": "datum.p == 'R'"}],
    "mark": {"type": "line", "strokeWidth": 2, "interpolate": "linear"},
    "encoding": {
      "x": {"field": "x", "type": "quantitative", "title": "行程 [mm]",
        "scale": {"domain": [-35, 35], "nice": false, "zero": false},
        "axis": {"values": [-35, -28, -21, -14, -7, 0, 7, 14, 21, 28, 35],
          "labelExpr": "(abs(datum.value) == 35 || datum.value == 0) ? ('' + datum.value) : ''",
          "grid": true,
          "gridColor": {"condition": {"test": "datum.value == 0", "value": "#9e9e9e"}, "value": "#cfcfcf"},
          "gridOpacity": {"condition": {"test": "abs(datum.value) == 35 || datum.value == 0", "value": 1}, "value": 0},
          "gridWidth": 1.5,
          "ticks": true, "tickSize": 4, "tickColor": "#bdbdbd",
          "domain": true, "domainColor": "#c8c8c8", "domainWidth": 1.5,
          "labelPadding": 10, "titlePadding": 9, "labelFlush": false}},
      "y": {"field": "y", "type": "quantitative", "title": "承载 [N]",
        "scale": {"domain": [-100, 100], "nice": false, "zero": false},
        "axis": {"values": [-100, -80, -60, -40, -20, 0, 20, 40, 60, 80, 100],
          "labelExpr": "'' + datum.value",
          "grid": true, "gridColor": "#d2d2d2", "gridWidth": 1.5,
          "ticks": false, "domain": false, "labelPadding": 15, "titlePadding": 3}},
      "color": {"field": "s", "type": "nominal",
        "scale": {"domain": ["SPRINGLIDE，5mm/s", "SPRINGLIDE，25mm/s", "齿条滑动支撑衬套，5mm/s", "齿条滑动支撑衬套，25mm/s"],
                  "range": ["#C49418", "#C49418", "#8C8C8C", "#8C8C8C"]}},
      "strokeDash": {"field": "s", "type": "nominal",
        "scale": {"domain": ["SPRINGLIDE，5mm/s", "SPRINGLIDE，25mm/s", "齿条滑动支撑衬套，5mm/s", "齿条滑动支撑衬套，25mm/s"],
                  "range": [[1, 0], [10, 6], [1, 0], [10, 6]]}},
      "order": {"field": "i", "type": "quantitative"}
    }
  }
],
"resolve": {"scale": {"color": "shared", "strokeDash": "shared"}}
}
